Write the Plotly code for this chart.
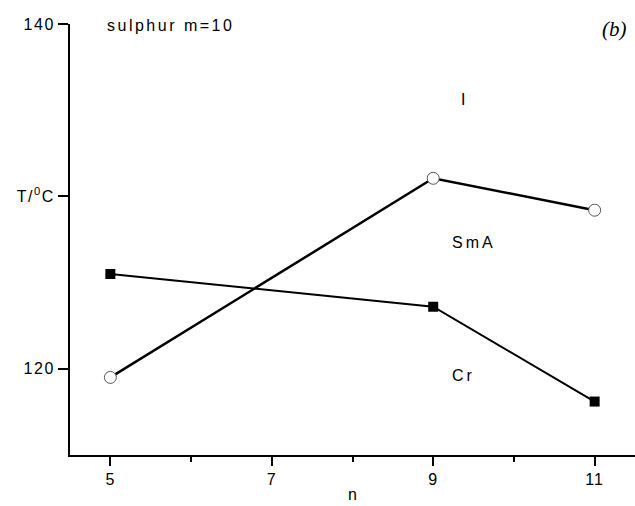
import plotly.graph_objects as go

# data
n_values = [5, 9, 11]
t_circle = [119.5, 131.05, 129.2]   # open circles (SmA -> I)
n_square = [5, 9, 11]
t_square = [125.5, 123.6, 118.1]    # filled squares (Cr -> SmA)

x_ticks = [5, 7, 9, 11]
x_ticklabels = ["5", "7", "9", "11"]
y_ticks = [120, 130, 140]
y_ticklabels = ["120", "T/<sup>0</sup>C", "140"]

FONT = "Liberation Sans, Arial, Helvetica, sans-serif"

def sp(t, s=2.5):
    return f'<span style="letter-spacing:{s}px">{t}</span>'

fig = go.Figure()
fig.add_trace(go.Scatter(
    x=n_square, y=t_square, mode="lines+markers",
    line=dict(color="black", width=2),
    marker=dict(symbol="square", size=10, color="black"),
    showlegend=False,
))
fig.add_trace(go.Scatter(
    x=n_values, y=t_circle, mode="lines+markers",
    line=dict(color="black", width=2.5),
    marker=dict(symbol="circle", size=12, color="white",
                line=dict(color="#555555", width=1)),
    showlegend=False,
))

fig.update_layout(
    width=635, height=506,
    margin=dict(l=70, r=0, t=24, b=51),
    paper_bgcolor="white", plot_bgcolor="white",
    font=dict(family=FONT, size=16, color="black"),
    xaxis=dict(
        range=[4.5, 11.5], tickmode="array", tickvals=x_ticks,
        ticktext=[sp(t, 1) for t in x_ticklabels],
        ticks="outside", ticklen=9, tickwidth=1.8, tickcolor="black",
        showline=True, linecolor="black", linewidth=2,
        showgrid=False, zeroline=False,
        minor=dict(tickmode="linear", tick0=5, dtick=1, ticks="outside",
                   ticklen=5, tickwidth=1.5, tickcolor="black", showgrid=False),
        title=dict(text="n", standoff=2, font=dict(size=16)),
        tickfont=dict(size=16),
    ),
    yaxis=dict(
        range=[115, 140], tickmode="array", tickvals=y_ticks,
        ticktext=[sp(t, 1.5) for t in y_ticklabels],
        ticks="outside", ticklen=10, tickwidth=1.8, tickcolor="black",
        showline=True, linecolor="black", linewidth=2,
        showgrid=False, zeroline=False,
        tickfont=dict(size=16),
    ),
    annotations=[
        dict(x=4.93, y=139.94, xref="x", yref="y", text=sp("sulphur m=10"),
             showarrow=False, xanchor="left", yanchor="middle", font=dict(size=16)),
        dict(x=11.25, y=139.7, xref="x", yref="y", text="<i>(b)</i>",
             showarrow=False, xanchor="center", yanchor="middle",
             font=dict(family="Liberation Serif, Times New Roman, serif", size=21)),
        dict(x=9.37, y=135.6, xref="x", yref="y", text="I",
             showarrow=False, xanchor="center", yanchor="middle", font=dict(size=16)),
        dict(x=9.5, y=127.3, xref="x", yref="y", text=sp("SmA", 3),
             showarrow=False, xanchor="center", yanchor="middle", font=dict(size=16)),
        dict(x=9.38, y=119.6, xref="x", yref="y", text=sp("Cr", 3),
             showarrow=False, xanchor="center", yanchor="middle", font=dict(size=16)),
    ],
)

fig.write_html("out.html", config={"displayModeBar": False},
               post_script="document.body.style.margin='0';document.body.style.overflow='hidden';")
